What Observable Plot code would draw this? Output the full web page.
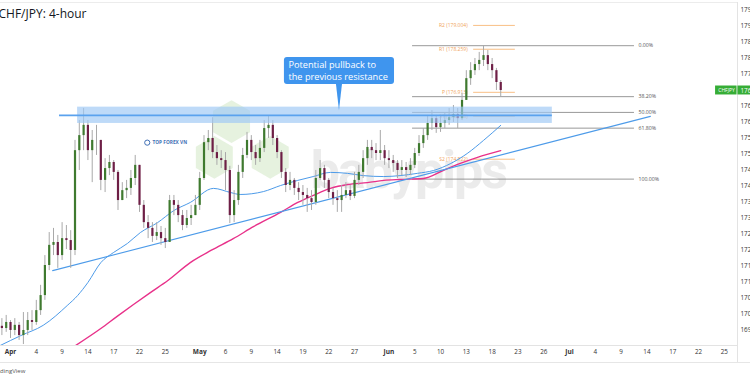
<!DOCTYPE html>
<html><head><meta charset="utf-8">
<script src="https://cdn.jsdelivr.net/npm/d3@7"></script>
<script src="https://cdn.jsdelivr.net/npm/@observablehq/plot@0.6"></script>
<style>
html,body{margin:0;padding:0;background:#fff;overflow:hidden;width:750px;height:375px;}
#wrap{position:relative;width:750px;height:375px;font-family:"Open Sans",sans-serif;}
#foot{position:absolute;left:0;top:362px;width:750px;height:13px;border-top:1px solid #e6e6e6;font-size:6px;color:#555;}
#foot span{position:absolute;left:-9px;top:4px;}
</style></head><body>
<div id="wrap"><div id="chart"></div><div id="foot"><span>TradingView</span></div></div>
<script>
// ---- data: 12-hour candles, time in trading days from 1 Apr 2025 ----
const firstBarT = -1, barStepT = 0.5;
const open = [169.60,169.53,169.72,169.47,169.63,169.31,169.47,169.78,169.72,170.09,
170.56,171.50,172.13,172.22,171.81,172.34,172.28,171.97,175.09,175.56,
175.88,175.09,175.41,175.41,174.16,174.53,174.72,174.41,173.53,173.84,
173.91,174.22,174.63,173.38,172.84,172.66,172.41,172.53,172.34,172.22,
173.53,173.38,173.06,172.75,172.97,173.06,173.38,174.22,175.34,175.47,
175.03,174.84,174.78,174.47,173.06,173.53,174.41,174.94,175.41,175.03,
174.84,175.16,175.78,175.88,175.47,175.03,174.41,174.00,174.16,173.91,
173.78,173.69,173.59,173.47,174.22,174.53,174.16,173.78,173.59,173.53,
173.69,173.84,173.66,174.16,174.41,174.84,175.19,175.09,175.00,175.09,
174.84,174.78,174.69,174.47,174.56,174.47,174.63,175.00,175.31,175.56,
175.94,176.09,175.81,175.94,176.03,176.12,176.22,176.09,176.66,177.34,
177.59,177.78,177.91,178.06,177.78,177.59,177.22];
const high = [169.84,169.94,169.78,169.84,169.72,170.03,170.03,170.09,170.41,170.88,
171.81,172.53,172.66,172.44,172.84,172.75,172.59,175.41,176.03,176.41,
176.03,175.72,175.88,175.41,174.84,174.94,174.78,174.47,174.09,174.16,
174.47,174.94,174.63,173.53,173.06,172.84,172.84,172.72,172.66,173.69,
173.69,173.53,173.22,173.22,173.38,173.69,174.41,175.56,175.72,176.12,
175.25,175.09,175.03,174.60,173.84,174.63,175.16,175.66,175.56,175.25,
175.41,176.03,176.16,176.03,175.56,175.09,174.53,174.41,174.22,174.09,
174.00,173.91,173.84,174.47,174.78,174.63,174.22,173.91,173.84,174.00,
174.09,174.00,174.41,174.63,175.09,175.41,175.41,175.31,175.72,175.25,
175.09,174.94,174.78,174.78,174.72,174.84,175.16,175.56,175.78,176.19,
176.34,176.19,176.19,176.28,176.41,176.50,176.41,176.88,177.59,177.84,
177.97,178.16,178.37,178.22,177.97,177.66,177.28];
const low = [169.31,169.41,169.22,169.31,169.16,169.03,169.31,169.47,169.63,169.94,
170.41,171.34,171.81,171.41,171.66,172.00,171.41,171.81,174.47,175.09,
174.78,174.09,174.94,173.84,173.78,174.31,174.16,173.22,173.53,173.59,
173.69,174.00,173.16,172.66,172.34,172.22,172.28,172.13,172.03,172.28,
173.06,172.84,172.59,172.66,172.75,173.06,173.22,174.16,175.09,174.84,
174.63,174.53,173.84,172.81,172.84,173.38,174.22,174.84,174.78,174.63,
174.72,175.03,175.47,175.25,174.84,174.22,173.78,173.84,173.69,173.53,
173.38,173.16,173.22,173.38,174.16,173.91,173.59,173.38,173.16,173.16,
173.59,173.53,173.59,174.00,174.22,174.63,174.84,174.78,174.78,174.63,
174.53,174.41,174.22,174.31,174.25,174.31,174.53,174.91,175.16,175.41,
175.72,175.63,175.66,175.78,175.88,175.97,175.78,176.03,176.66,177.13,
177.44,177.59,177.72,177.59,177.34,176.97,176.78];
const close = [169.53,169.72,169.47,169.63,169.31,169.47,169.78,169.72,170.09,170.56,
171.50,172.13,172.22,171.81,172.34,172.28,171.97,175.09,175.56,175.88,
175.09,175.41,175.41,174.16,174.53,174.72,174.41,173.53,173.84,173.91,
174.22,174.63,173.38,172.84,172.66,172.41,172.53,172.34,172.22,173.53,
173.38,173.06,172.75,172.97,173.06,173.38,174.22,175.34,175.47,175.03,
174.84,174.78,174.47,173.06,173.53,174.41,174.94,175.41,175.03,174.84,
175.16,175.78,175.88,175.47,175.03,174.41,174.00,174.16,173.91,173.78,
173.69,173.59,173.47,174.22,174.53,174.16,173.78,173.59,173.53,173.69,
173.84,173.66,174.16,174.41,174.84,175.19,175.09,175.00,175.09,174.84,
174.78,174.69,174.47,174.56,174.47,174.63,175.00,175.31,175.56,175.94,
176.09,175.81,175.94,176.03,176.12,176.22,176.09,176.66,177.34,177.59,
177.78,177.91,178.06,177.78,177.59,177.22,176.97];

// moving averages
const maBlueT = [-1.2,1.2,3.8,6.6,7.8,9.0,10.5,12.0,13.6,15.1,17.1,19.0,20.9,23.6,25.6,26.7,29.4,31.4,33.4,35.2,37.2,39.2,41.0,43.4,45.3,47.3,49.2,51.2,53.1,55.0,57.0];
const maBlue  = [169.00,169.31,169.63,170.25,170.56,170.97,171.59,171.91,172.19,172.53,172.84,173.22,173.47,173.91,173.78,173.72,173.81,174.00,174.16,174.28,174.41,174.38,174.31,174.28,174.31,174.38,174.47,174.69,175.00,175.41,175.88];
const maPinkT = [7.4,10.5,12.4,14.3,16.3,18.3,20.9,23.3,25.9,28.3,31.4,33.4,35.2,37.2,39.2,41.5,43.4,45.3,48.0,50.3,52.3,54.3,57.0];
const maPink  = [168.97,169.53,169.91,170.28,170.66,171.03,171.59,171.97,172.34,172.72,173.16,173.47,173.69,173.91,174.03,174.09,174.16,174.19,174.22,174.47,174.69,174.88,175.09];

// drawings
const trendT = [4.9, 74.4], trendP = [171.34, 176.16];
const zoneT = [7.8, 63.0], zoneP = [175.94, 176.45], zoneLineT = [5.7, 63.0], zoneLineP = 176.19;
const fibHigh = 178.37, fibLow = 174.20, fibT = [46.75, 72.55];
const fibRatios = [0, 0.382, 0.5, 0.618, 1];
const fibLabels = ["0.00%", "38.20%", "50.00%", "61.80%", "100.00%"];
const pivotNames = ["R2", "R1", "P", "S1", "S2"];
const pivotValues = [179.004, 178.259, 176.913, 176.168, 174.822];
const pivotT = [53.85, 58.7];
const calloutLines = ["Potential pullback to", "the previous resistance"];
const calloutT = [31.85, 44.65], calloutP = [177.16, 178.0], calloutTipT = 38.25, calloutTipP = 176.34;

// axis ticks
const xTickT = [0,3,6,9,12,15,18,22,25,28,31,34,37,40,44,47,50,53,56,59,62,65,68,71,74,77,80,83];
const xTickLabels = ["Apr","4","9","14","17","22","25","May","6","9","14","19","22","27","Jun","5","10","13","18","23","26","Jul","4","9","14","17","22","25"];
const yTicks = [169.5,170,170.5,171,171.5,172,172.5,173,173.5,174,174.5,175,175.5,176,176.5,177,177.5,178,178.5,179,179.5];

const title = "CHF/JPY: 4-hour";
const symbolName = "CHFJPY";
const hexT = [25.7, 23.7, 30.2], hexP = [176.0, 174.88, 174.88];

// ---- build ----
const bars = close.map((c, i) => ({t: firstBarT + i * barStepT, o: open[i], h: high[i], l: low[i], c}));
const upBars = bars.filter(d => d.c >= d.o), downBars = bars.filter(d => d.c < d.o);
const blue = maBlueT.map((t, i) => ({t, p: maBlue[i]}));
const pink = maPinkT.map((t, i) => ({t, p: maPink[i]}));
const trend = trendT.map((t, i) => ({t, p: trendP[i]}));
const fib = fibRatios.map((r, i) => ({p: fibHigh - r * (fibHigh - fibLow), label: fibLabels[i]}));
const pivots = pivotNames.map((n, i) => ({p: pivotValues[i], label: `${n} (${pivotValues[i].toFixed(3)})`}));
const ticks = xTickT.map((t, i) => ({t, label: xTickLabels[i], month: isNaN(+xTickLabels[i])}));
const hexes = hexT.map((t, i) => ({t, p: hexP[i]}));
const last = close[close.length - 1];
const xMin = -1.163, xMax = 84.53, yMin = 169.0, yMax = 179.72;
const pointer = [
  {t: calloutTipT - 0.35, y1: calloutP[0], y2: calloutP[0]},
  {t: calloutTipT, y1: calloutP[0], y2: calloutTipP},
  {t: calloutTipT + 0.35, y1: calloutP[0], y2: calloutP[0]}
];
const calloutMid = (calloutP[0] + calloutP[1]) / 2;
const blueC = "#4d9be9", upC = "#3f7a2f", downC = "#6e1f46", wickC = "#a9a9a9";
const green = "#36ad36";

const plot = Plot.plot({
  width: 750, height: 362,
  marginTop: 2, marginBottom: 17, marginLeft: 0, marginRight: 13,
  x: {domain: [xMin, xMax], axis: null},
  y: {domain: [yMin, yMax], axis: null},
  style: {background: "#fff", fontFamily: "'Open Sans', sans-serif", overflow: "hidden"},
  marks: [
    // watermarks
    Plot.dot(hexes, {x: "t", y: "p", symbol: "hexagon", r: 18.5, fill: "#dcedd1", fillOpacity: 0.7, stroke: "none"}),
    Plot.text(["babypips"], {x: 34.9, y: 174.44, textAnchor: "start", fontSize: 52, fontWeight: "bold", fontFamily: "Roboto", fill: "#e4e4e4", fillOpacity: 0.75, className: "wm"}),
    Plot.dot([0], {x: 15.9, y: 175.34, r: 2.6, stroke: "#3f6fb5", strokeWidth: 1, fill: "none"}),
    Plot.text(["TOP FOREX VN"], {x: 16.5, y: 175.34, textAnchor: "start", fontSize: 4.8, fontWeight: "bold", fill: "#3f6fb5"}),
    // frame lines
    Plot.ruleY([yMax], {stroke: "#ececec"}),
    Plot.ruleY([yMin], {stroke: "#e3e3e3"}),
    Plot.ruleX([xMax], {y1: yMax, y2: 168.47, stroke: "#e3e3e3"}),
    // pivots
    Plot.ruleY(pivots, {y: "p", x1: pivotT[0], x2: pivotT[1], stroke: "#f7b877", strokeWidth: 0.9}),
    Plot.text(pivots, {y: "p", x: pivotT[0], dx: -6, text: "label", textAnchor: "end", fontSize: 5, fill: "#f0a35a"}),
    // fibonacci
    Plot.ruleY(fib, {y: "p", x1: fibT[0], x2: fibT[1], stroke: "#7d7d7d", strokeWidth: 0.8}),
    Plot.text(fib, {y: "p", x: fibT[1], dx: 4, text: "label", textAnchor: "start", fontSize: 5.2, fill: "#555"}),
    // moving averages & trendline
    Plot.line(pink, {x: "t", y: "p", stroke: "#e8318a", strokeWidth: 1.4, clip: true, curve: "monotone-x"}),
    Plot.line(blue, {x: "t", y: "p", stroke: blueC, strokeWidth: 1, clip: true, curve: "monotone-x"}),
    Plot.line(trend, {x: "t", y: "p", stroke: blueC, strokeWidth: 1.1}),
    // candles
    Plot.ruleX(bars, {x: "t", y1: "l", y2: "h", stroke: wickC, strokeWidth: 1, clip: true}),
    Plot.ruleX(upBars, {x: "t", y1: "o", y2: "c", stroke: upC, strokeWidth: 2.2, clip: true}),
    Plot.ruleX(downBars, {x: "t", y1: "o", y2: "c", stroke: downC, strokeWidth: 2.2, clip: true}),
    // resistance zone
    Plot.rect([0], {x1: zoneT[0], x2: zoneT[1], y1: zoneP[0], y2: zoneP[1], fill: "#9fc9f5", fillOpacity: 0.68}),
    Plot.ruleY([zoneLineP], {x1: zoneLineT[0], x2: zoneLineT[1], stroke: "#5aa2ee", strokeWidth: 1.8}),
    // callout
    Plot.rect([0], {x1: calloutT[0], x2: calloutT[1], y1: calloutP[0], y2: calloutP[1], fill: "#3f95ee", rx: 3}),
    Plot.areaY(pointer, {x: "t", y1: "y1", y2: "y2", fill: "#3f95ee"}),
    Plot.text([calloutLines[0]], {x: calloutT[0], dx: 4, y: calloutMid, dy: -5.7, textAnchor: "start", fontSize: 9.2, fill: "#fff"}),
    Plot.text([calloutLines[1]], {x: calloutT[0], dx: 4, y: calloutMid, dy: 5.7, textAnchor: "start", fontSize: 9.2, fill: "#fff"}),
    // title
    Plot.text([title], {frameAnchor: "top-left", dx: -2, dy: 7, textAnchor: "start", lineAnchor: "top", fontSize: 12, fill: "#131722"}),
    // y axis (right)
    Plot.text(yTicks, {x: xMax, y: d => d, dx: 3, text: d => d.toFixed(3), textAnchor: "start", fontSize: 6.3, fill: "#333"}),
    // x axis labels
    Plot.text(ticks.filter(d => !d.month), {x: "t", frameAnchor: "bottom", dy: 8, text: "label", fontSize: 6.3, fill: "#333"}),
    Plot.text(ticks.filter(d => d.month), {x: "t", frameAnchor: "bottom", dy: 8, text: "label", fontSize: 6.5, fontWeight: "bold", fill: "#333"}),
    // current price tag
    Plot.rect([0], {x1: 81.98, x2: xMax - 0.05, y1: last - 0.14, y2: last + 0.14, fill: green}),
    Plot.rect([0], {x1: xMax + 0.05, x2: 86.4, y1: last - 0.14, y2: last + 0.14, fill: green}),
    Plot.text([symbolName], {x: (81.98 + xMax) / 2, y: last, text: d => d, fontSize: 5, fill: "#fff"}),
    Plot.text([last.toFixed(3)], {x: xMax, y: last, dx: 3, text: d => d, textAnchor: "start", fontSize: 6.3, fill: "#fff"})
  ]
});
d3.select(plot).selectAll(".wm text").style("letter-spacing", "-2px");
document.getElementById("chart").appendChild(plot);
</script>
</body></html>
